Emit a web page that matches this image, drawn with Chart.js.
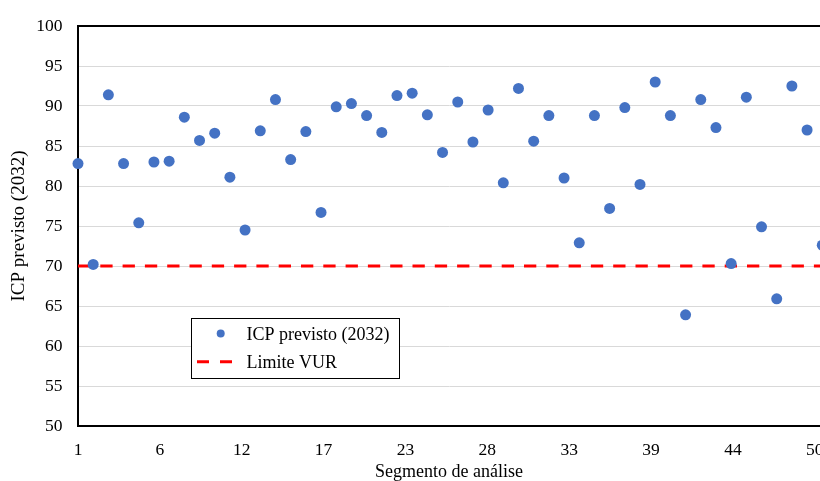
<!DOCTYPE html>
<html>
<head>
<meta charset="utf-8">
<script src="https://cdn.jsdelivr.net/npm/chart.js@4"></script>
<style>
  html, body { margin: 0; padding: 0; background: #fff; overflow: hidden; }
  #wrap { position: relative; width: 820px; height: 481px; }
</style>
</head>
<body>
<div id="wrap"><canvas id="chart"></canvas></div>
<script>
// Segment numbers along the road
const segments = [
  1, 2, 3, 4, 5, 6, 7, 8, 9, 10,
  11, 12, 13, 14, 15, 16, 17, 18, 19, 20,
  21, 22, 23, 24, 25, 26, 27, 28, 29, 30,
  31, 32, 33, 34, 35, 36, 37, 38, 39, 40,
  41, 42, 43, 44, 45, 46, 47, 48, 49, 50
];

// Predicted pavement condition index for 2032, one value per segment
const icpPrevisto = [
  82.8, 70.2, 91.4, 82.8, 75.4, 83.0, 83.1, 88.6, 85.7, 86.6,
  81.1, 74.5, 86.9, 90.8, 83.3, 86.8, 76.7, 89.9, 90.3, 88.8,
  86.7, 91.3, 91.6, 88.9, 84.2, 90.5, 85.5, 89.5, 80.4, 92.2,
  85.6, 88.8, 81.0, 72.9, 88.8, 77.2, 89.8, 80.2, 93.0, 88.8,
  63.9, 90.8, 87.3, 70.3, 91.1, 74.9, 65.9, 92.5, 87.0, 72.6
];

// Residual service life threshold
const limiteVUR = 70;

const seriesLabels = ['ICP previsto (2032)', 'Limite VUR'];
const xTitle = 'Segmento de análise';
const yTitle = 'ICP previsto (2032)';
const xTickLabels = ['1', '6', '12', '17', '23', '28', '33', '39', '44', '50'];

// Axis configuration
const X_MIN = 1, X_MAX = 49.85, X_TICK_STEP = 5.39;
const Y_MIN = 50, Y_MAX = 100, Y_STEP = 5;

const FONT = 'Liberation Serif, "Times New Roman", serif';
const BLUE = '#4472C4';
const RED = '#FF0000';

// Boxed legend sitting inside the plot area
const boxedLegend = {
  id: 'boxedLegend',
  afterDraw(chart) {
    const ctx = chart.ctx;
    const ds = chart.data.datasets;
    const x = 191, y = 318, w = 208, h = 60;
    ctx.save();
    ctx.fillStyle = '#fff';
    ctx.fillRect(x, y, w, h);
    ctx.strokeStyle = '#000';
    ctx.lineWidth = 1;
    ctx.strokeRect(x + 0.5, y + 0.5, w, h);

    // marker entry
    ctx.fillStyle = ds[0].backgroundColor;
    ctx.beginPath();
    ctx.arc(220.7, 333.5, 4, 0, Math.PI * 2);
    ctx.fill();

    // dashed line entry
    ctx.strokeStyle = ds[1].borderColor;
    ctx.lineWidth = ds[1].borderWidth;
    ctx.setLineDash([12, 11]);
    ctx.lineCap = 'butt';
    ctx.beginPath();
    ctx.moveTo(197, 361.7);
    ctx.lineTo(233, 361.7);
    ctx.stroke();
    ctx.setLineDash([]);

    ctx.fillStyle = '#000';
    ctx.font = '18px ' + FONT;
    ctx.textAlign = 'left';
    ctx.textBaseline = 'alphabetic';
    ctx.fillText(ds[0].label, 246.5, 339.5);
    ctx.fillText(ds[1].label, 246.5, 368);
    ctx.restore();
  }
};

new Chart(document.getElementById('chart'), {
  type: 'scatter',
  data: {
    datasets: [
      {
        label: seriesLabels[0],
        data: segments.map((s, i) => ({ x: s, y: icpPrevisto[i] })),
        backgroundColor: BLUE,
        borderColor: BLUE,
        borderWidth: 0,
        pointRadius: 5.5,
        pointHoverRadius: 5.5,
        clip: false
      },
      {
        label: seriesLabels[1],
        type: 'line',
        data: [{ x: X_MIN, y: limiteVUR }, { x: X_MAX, y: limiteVUR }],
        borderColor: RED,
        backgroundColor: RED,
        borderWidth: 3,
        borderDash: [12.3, 10],
        borderCapStyle: 'butt',
        pointRadius: 0,
        fill: false
      }
    ]
  },
  options: {
    responsive: true,
    maintainAspectRatio: false,
    animation: false,
    devicePixelRatio: 1,
    layout: { autoPadding: false, padding: { top: 18, right: 0, bottom: 0, left: 0 } },
    plugins: {
      legend: { display: false },
      tooltip: { enabled: false }
    },
    scales: {
      x: {
        type: 'linear',
        min: X_MIN,
        max: X_MAX,
        afterBuildTicks: (scale) => {
          scale.ticks = xTickLabels.map((_, i) => ({ value: X_MIN + i * X_TICK_STEP }));
        },
        afterFit: (scale) => {
          scale.height = 55;
          scale.paddingLeft = 0;
          scale.paddingRight = 0;
        },
        ticks: {
          autoSkip: false,
          maxRotation: 0,
          padding: 14,
          color: '#000',
          font: { family: FONT, size: 17.5 },
          callback: (value, index) => xTickLabels[index]
        },
        grid: { color: 'rgba(0,0,0,0)', drawTicks: false },
        border: { display: true, color: '#000', width: 2 },
        title: {
          display: true,
          text: xTitle,
          color: '#000',
          font: { family: FONT, size: 18 },
          padding: { top: 0, bottom: -2 }
        }
      },
      y: {
        min: Y_MIN,
        max: Y_MAX,
        afterFit: (scale) => { scale.width = 78; },
        ticks: {
          stepSize: Y_STEP,
          padding: 15.5,
          color: '#000',
          font: { family: FONT, size: 17.5 }
        },
        grid: {
          drawTicks: false,
          color: (ctx) => (ctx.tick && ctx.tick.value === Y_MAX ? '#000' : '#d9d9d9'),
          lineWidth: (ctx) => (ctx.tick && ctx.tick.value === Y_MAX ? 2 : 1)
        },
        border: { display: true, color: '#000', width: 2 },
        title: {
          display: true,
          text: yTitle,
          color: '#000',
          font: { family: FONT, size: 19 },
          padding: { top: 8, bottom: 0 }
        }
      }
    }
  },
  plugins: [boxedLegend]
});
</script>
</body>
</html>
